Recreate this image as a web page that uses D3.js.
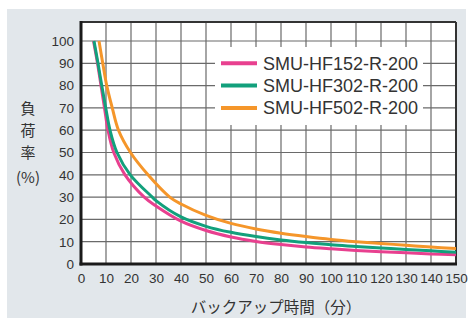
<!DOCTYPE html>
<html>
<head>
<meta charset="utf-8">
<script src="https://cdn.jsdelivr.net/npm/d3@7/dist/d3.min.js"></script>
<style>
  html, body { margin: 0; padding: 0; background: #ffffff; }
  svg { display: block; }
</style>
</head>
<body>
<svg id="chart" width="471" height="318"></svg>
<script>
// ---- data ----
const seriesNames = ["SMU-HF152-R-200", "SMU-HF302-R-200", "SMU-HF502-R-200"];
const seriesColors = ["#e8408f", "#12a07c", "#f5962a"];

const timeHF152 = [5, 6.6, 8, 9.4, 10.8, 13.1, 17.6, 25.3, 30, 40, 50, 60, 70, 80, 90, 100, 110, 120, 130, 140, 150];
const loadHF152 = [100, 90, 80, 70, 60, 50, 40, 30, 26, 19.2, 15, 12.1, 10.1, 8.7, 7.6, 6.8, 6.1, 5.5, 5.0, 4.5, 4.1];

const timeHF302 = [5.2, 6.8, 8.3, 9.9, 11.6, 14.4, 19.7, 28.5, 30, 40, 50, 60, 70, 80, 90, 100, 110, 120, 130, 140, 150];
const loadHF302 = [100, 90, 80, 70, 60, 50, 40, 30, 28.4, 21.1, 16.9, 14.2, 12.3, 10.8, 9.6, 8.6, 7.9, 7.2, 6.5, 5.9, 5.3];

const timeHF502 = [7.2, 8.7, 10.3, 12.5, 15, 19.8, 26.8, 35.5, 40, 50, 60, 70, 80, 90, 100, 110, 120, 130, 140, 150];
const loadHF502 = [100, 90, 80, 70, 60, 50, 40, 30, 26.9, 21.8, 18.2, 15.7, 13.8, 12.3, 11, 10, 9.2, 8.4, 7.6, 7.0];

const xTicks = [0, 10, 20, 30, 40, 50, 60, 70, 80, 90, 100, 110, 120, 130, 140, 150];
const yTicks = [0, 10, 20, 30, 40, 50, 60, 70, 80, 90, 100];
const yTitleParts = ["負", "荷", "率", "(%)"];
const xTitle = "バックアップ時間（分）";

(function () {
// ---- layout ----
const svg = d3.select("#chart");
const pL = 81, pR = 456, pT = 22, pB = 264;

const x = d3.scaleLinear().domain([0, 150]).range([pL, pR]);
const y = d3.scaleLinear().domain([0, 100]).range([pB, 41]);

// background panel
svg.append("rect").attr("x", 7).attr("y", 9).attr("width", 459).attr("height", 309).attr("fill", "#e2e7eb");
// plot area
svg.append("rect").attr("x", pL).attr("y", pT).attr("width", pR - pL).attr("height", pB - pT).attr("fill", "#ffffff");

// grid
const grid = svg.append("g").attr("stroke", "#6a6a6a").attr("stroke-width", 1.2);
xTicks.filter(d => d > 0 && d < 150).forEach(d => {
  grid.append("line").attr("x1", x(d)).attr("x2", x(d)).attr("y1", pT).attr("y2", pB);
});
yTicks.filter(d => d > 0).forEach(d => {
  grid.append("line").attr("x1", pL).attr("x2", pR).attr("y1", y(d)).attr("y2", y(d));
});

// top/right border
svg.append("line").attr("x1", pL).attr("x2", pR).attr("y1", pT).attr("y2", pT).attr("stroke", "#333").attr("stroke-width", 2);
svg.append("line").attr("x1", pR).attr("x2", pR).attr("y1", pT).attr("y2", pB).attr("stroke", "#333").attr("stroke-width", 2);

// legend box (white, covers grid)
svg.append("rect").attr("x", 215).attr("y", 47).attr("width", 208).attr("height", 78).attr("fill", "#ffffff");

// curves
const series = [
  timeHF152.map((t, i) => [t, loadHF152[i]]),
  timeHF302.map((t, i) => [t, loadHF302[i]]),
  timeHF502.map((t, i) => [t, loadHF502[i]])
];
const line = d3.line().x(d => x(d[0])).y(d => y(d[1])).curve(d3.curveCatmullRom.alpha(0.5));
const clipId = "plotclip";
svg.append("clipPath").attr("id", clipId).append("rect")
  .attr("x", pL).attr("y", pT).attr("width", pR - pL).attr("height", pB - pT);
series.forEach((s, i) => {
  svg.append("path").attr("d", line(s)).attr("fill", "none")
    .attr("stroke", seriesColors[i]).attr("stroke-width", 3)
    .attr("clip-path", `url(#${clipId})`);
});

// axes (thick left / bottom)
const font = "'Liberation Sans', Arial, Helvetica, sans-serif";
const xAxis = d3.axisBottom(x).tickValues(xTicks).tickSize(0).tickPadding(9);
const gx = svg.append("g").attr("transform", `translate(0,${pB})`).call(xAxis);
gx.select(".domain").remove();
gx.selectAll("text").attr("font-family", font).attr("font-size", 13.5).attr("fill", "#333");

const yAxis = d3.axisLeft(y).tickValues(yTicks).tickSize(0).tickPadding(7);
const gy = svg.append("g").attr("transform", `translate(${pL},0)`).call(yAxis);
gy.select(".domain").remove();
gy.selectAll("text").attr("font-family", font).attr("font-size", 13.5).attr("fill", "#333");

svg.append("line").attr("x1", pL).attr("x2", pL).attr("y1", pT - 1).attr("y2", pB + 1.5).attr("stroke", "#1a1a1a").attr("stroke-width", 3);
svg.append("line").attr("x1", pL - 1.5).attr("x2", pR + 1).attr("y1", pB).attr("y2", pB).attr("stroke", "#1a1a1a").attr("stroke-width", 3);

// legend entries
const legendY = [90, 80, 70];
seriesNames.forEach((name, i) => {
  const ly = y(legendY[i]);
  svg.append("line").attr("x1", 221).attr("x2", 257).attr("y1", ly).attr("y2", ly)
    .attr("stroke", seriesColors[i]).attr("stroke-width", 4);
  svg.append("text").attr("x", 263).attr("y", ly).attr("dy", "0.36em")
    .attr("font-family", font).attr("font-size", 18).attr("fill", "#333").text(name);
});

// y title (stacked)
const cjk = "'Noto Sans CJK JP', 'Noto Sans CJK SC', sans-serif";
const yTitleY = [109, 131, 153, 178];
yTitleParts.forEach((p, i) => {
  svg.append("text").attr("x", 28).attr("y", yTitleY[i]).attr("dy", "0.36em")
    .attr("text-anchor", "middle").attr("font-family", cjk).attr("font-size", 15)
    .attr("fill", "#333").text(p);
});

// x title
svg.append("text").attr("x", 276).attr("y", 307).attr("dy", "0.36em")
  .attr("text-anchor", "middle").attr("font-family", cjk).attr("font-size", 15.5)
  .attr("fill", "#333").text(xTitle);
})();
</script>
</body>
</html>
